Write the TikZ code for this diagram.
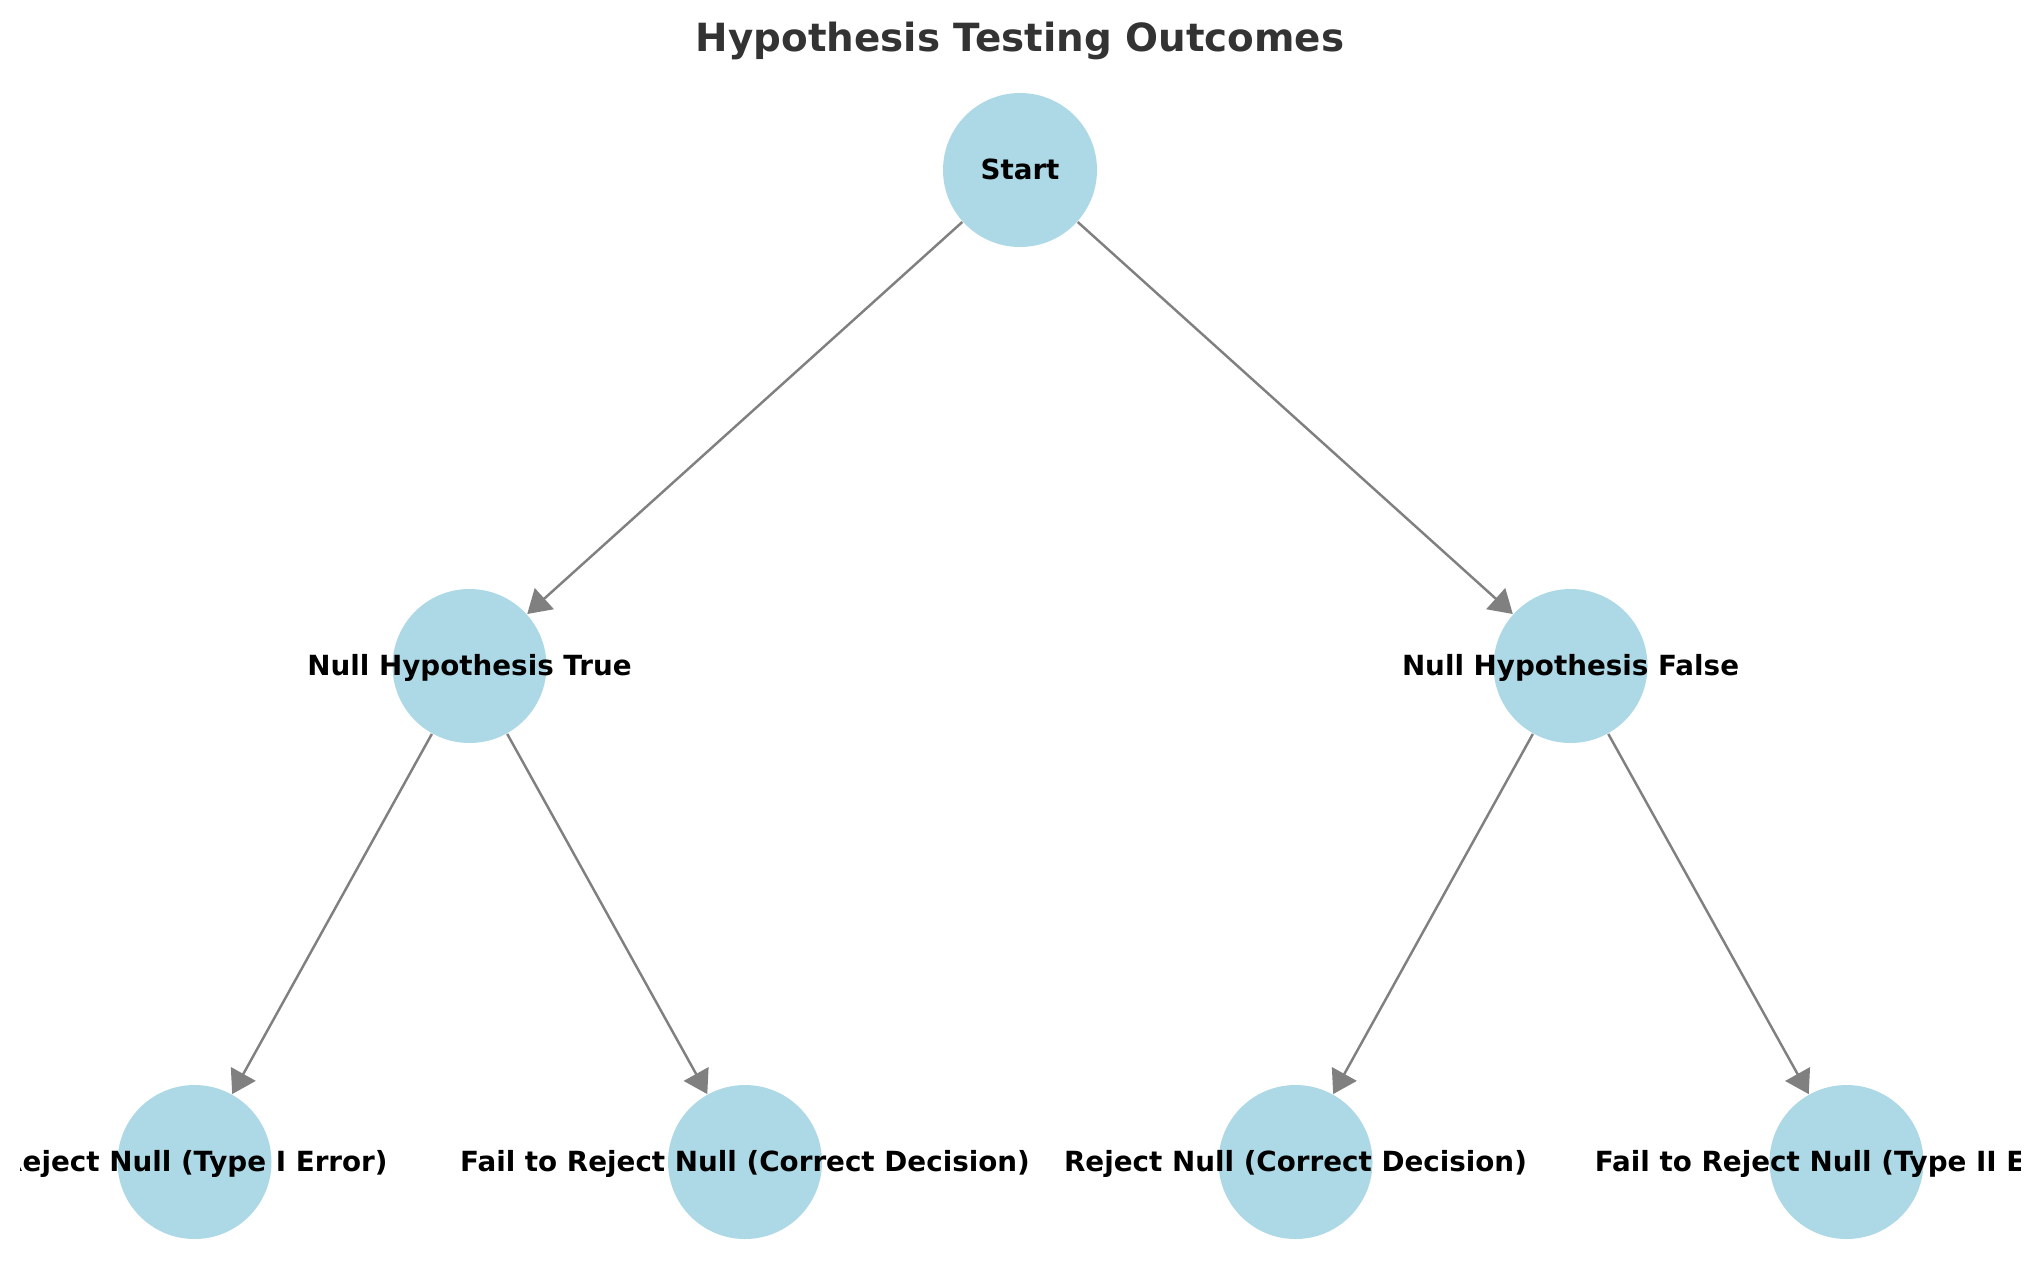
\documentclass[tikz,border=0pt]{standalone}
\usepackage{fontspec}
\setmainfont{DejaVu Sans}
\usepackage{xcolor}
\usepackage{tikz}
\usetikzlibrary{arrows.meta, positioning}
\definecolor{nodeblue}{HTML}{ADD8E6}
\definecolor{edgegray}{HTML}{808080}
\definecolor{titlegray}{HTML}{333333}

\begin{document}
\begin{tikzpicture}[
    state/.style={circle, fill=nodeblue, minimum size=15.4mm, inner sep=0pt},
    lbl/.style={font=\fontsize{7.9}{9}\selectfont\bfseries, anchor=base, yshift=-0.95mm},
    edge/.style={-{Triangle[length=2.3mm, width=2.8mm]}, line width=0.7pt, color=edgegray}
]
\useasboundingbox (0,0) rectangle (20.39,12.86);

% Title
\node[font=\fontsize{11.05}{13}\selectfont\bfseries, color=titlegray, anchor=base] (title) at (10.20,12.35) {Hypothesis Testing Outcomes};

\begin{scope}
\clip (0.2,0) rectangle (20.2,12.86);

% Root
\node[state] (start) at (10.20,11.16) {};
\node[lbl] (startlbl) at (10.20,11.16) {Start};

% Truth of the null hypothesis
\node[state] (htrue) at (4.695,6.20) {};
\node[lbl] (htruelbl) at (4.695,6.20) {Null Hypothesis True};
\node[state] (hfalse) at (15.705,6.20) {};
\node[lbl] (hfalselbl) at (15.705,6.20) {Null Hypothesis False};

% Decisions
\node[state] (rejtrue) at (1.945,1.24) {};
\node[lbl] (rejtruelbl) at (1.945,1.24) {Reject Null (Type I Error)};
\node[state] (failtrue) at (7.45,1.24) {};
\node[lbl] (failtruelbl) at (7.45,1.24) {Fail to Reject Null (Correct Decision)};
\node[state] (rejfalse) at (12.955,1.24) {};
\node[lbl] (rejfalselbl) at (12.955,1.24) {Reject Null (Correct Decision)};
\node[state] (failfalse) at (18.465,1.24) {};
\node[lbl] (failfalselbl) at (18.465,1.24) {Fail to Reject Null (Type II Error)};

% Edges
\draw[edge] (start) -- (htrue);
\draw[edge] (start) -- (hfalse);
\draw[edge] (htrue) -- (rejtrue);
\draw[edge] (htrue) -- (failtrue);
\draw[edge] (hfalse) -- (rejfalse);
\draw[edge] (hfalse) -- (failfalse);
\end{scope}

\end{tikzpicture}
\end{document}
